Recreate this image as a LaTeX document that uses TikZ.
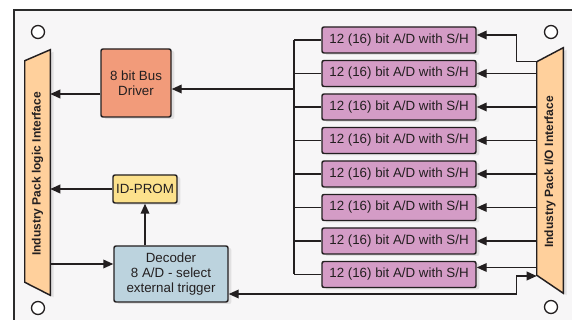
\documentclass[tikz,border=0pt]{standalone}
\usepackage{fontspec}
\setmainfont{Liberation Sans}
\usetikzlibrary{arrows.meta,shadows,calc}

\definecolor{boardbg}{RGB}{247,246,247}
\definecolor{boardln}{RGB}{43,43,43}
\definecolor{linec}{RGB}{35,31,32}
\definecolor{trapc}{RGB}{255,208,156}
\definecolor{drvc}{RGB}{242,155,122}
\definecolor{promc}{RGB}{252,225,140}
\definecolor{decc}{RGB}{188,211,222}
\definecolor{adc}{RGB}{212,156,198}

\tikzset{
  shade box/.style={drop shadow={opacity=0.18,shadow xshift=2.5pt,shadow yshift=-1.5pt}},
  blk/.style={draw=linec, line width=1.1pt, rounded corners=1.5pt, inner sep=1pt,
    align=center, text=linec, font=\fontsize{10}{11.5}\selectfont, shade box},
  adbox/.style={blk, fill=adc, minimum width=115.5pt, minimum height=19.5pt},
  trap/.style={draw=linec, line width=1.1pt, fill=trapc, shade box},
  traptext/.style={rotate=90, text=linec, font=\fontsize{9}{10}\selectfont\bfseries},
  link/.style={draw=linec, line width=1.1pt},
  arr/.style={link, -{Triangle[length=7.5pt,width=6.5pt]}},
  biarr/.style={link, {Triangle[length=7.5pt,width=6.5pt]}-{Triangle[length=7.5pt,width=6.5pt]}},
  hole/.style={draw=linec, line width=1pt, fill=white},
}

\begin{document}
\begin{tikzpicture}[x=0.75pt,y=0.75pt,yscale=-1,xscale=1]
\useasboundingbox (0,0) rectangle (572,320);

% board
\fill[boardbg] (14,10) rectangle (572,320);
\draw[boardln, line width=1.5pt] (14,320) -- (14,10) -- (572,10);
\draw[hole] (38,32) circle (6.5);
\draw[hole] (38,308) circle (6.5);
\draw[hole] (551,32) circle (6.5);
\draw[hole] (551,307) circle (6.5);

% interfaces
\node[minimum width=18.75pt, minimum height=183.75pt, inner sep=0pt] (lpi) at (37.5,172.5) {};
\draw[trap] ($(lpi.north west)+(0,11)$) -- (lpi.north east) -- (lpi.south east) -- ($(lpi.south west)+(0,-13)$) -- cycle;
\node[traptext] (lpitext) at ($(lpi.center)+(0,1.5)$) {Industry Pack logic Interface};

\node[minimum width=19.5pt, minimum height=183.75pt, inner sep=0pt] (rio) at (550,170.5) {};
\draw[trap] ($(rio.north west)+(0,14)$) -- (rio.north east) -- (rio.south east) -- ($(rio.south west)+(0,-18)$) -- cycle;
\node[traptext] (riotext) at ($(rio.center)+(0,1.5)$) {Industry Pack I/O Interface};

% blocks
\node[blk, fill=drvc, minimum width=52.5pt, minimum height=51pt] (drv) at (136,83) {8 bit Bus\\Driver};
\node[blk, fill=promc, minimum width=48pt, minimum height=21pt] (prom) at (145,189) {ID-PROM};
\node[blk, fill=decc, minimum width=85.5pt, minimum height=42pt] (dec) at (171,274) {Decoder\\8 A/D - select\\external trigger};

\foreach \i in {1,...,8}
  \node[adbox] (ad\i) at (399,{40+33.5*(\i-1)}) {12 (16) bit A/D with S/H};

% A/D bus
\coordinate (bus) at (294,0);
\foreach \i in {1,...,8}
  \draw[link] (ad\i.west) -- (ad\i.west -| bus);
\draw[link] (ad1.west -| bus) -- (ad8.west -| bus);

\coordinate (drvin) at ($(drv.east)+(0,6)$);
\draw[arr] (drvin -| bus) -- (drvin);
\coordinate (drvout) at ($(drv.west)+(0,11)$);
\draw[arr] (drvout) -- (drvout -| lpi.east);

% logic side
\draw[arr] (prom.west) -- (prom.west -| lpi.east);
\coordinate (decin) at ($(dec.west)+(0,-10)$);
\draw[arr] (decin -| lpi.east) -- (decin);
\draw[arr] (dec.north -| prom.south) -- (prom.south);

% I/O side
\coordinate (ad1in) at ($(ad1.east)+(0,-5)$);
\draw[arr] ($(rio.north west)+(0,14)$) -| ($(ad1in)+(40,0)$) -- (ad1in);
\foreach \i in {2,...,7}
  \draw[arr] (ad\i.east -| rio.west) -- (ad\i.east);
\coordinate (ad8in) at ($(ad8.east)+(0,-7)$);
\draw[arr] (ad8in -| rio.west) -- (ad8in);

\coordinate (trig) at ($(dec.east)+(0,20)$);
\coordinate (rioin) at ($(rio.west)+(0,105.5)$);
\draw[biarr] (trig) -| ($(rioin)+(-20,0)$) -- (rioin);

\end{tikzpicture}
\end{document}
